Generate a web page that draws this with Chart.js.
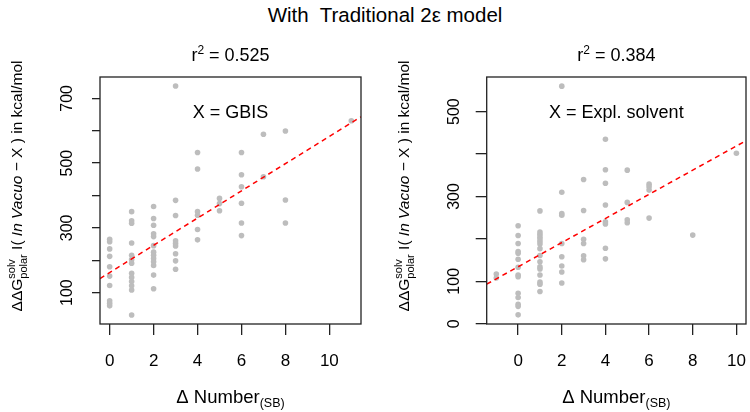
<!DOCTYPE html>
<html>
<head>
<meta charset="utf-8">
<script src="https://cdn.jsdelivr.net/npm/chart.js@4.4.0/dist/chart.umd.min.js"></script>
<style>
  body { margin: 0; background: #fff; }
  #wrap { position: relative; width: 750px; height: 412px; overflow: hidden; }
  #title { position: absolute; left: 0; top: 3px; width: 770px; text-align: center; white-space: pre;
           font: 20.5px "Liberation Sans", Arial, sans-serif; color: #000; }
  canvas { position: absolute; top: 0; }
  #left { left: 0; }
  #right { left: 375px; }
</style>
</head>
<body>
<div id="wrap">
  <div id="title">With  Traditional 2ε model</div>
  <canvas id="left" width="375" height="412"></canvas>
  <canvas id="right" width="375" height="412"></canvas>
</div>
<script>
"use strict";
// left panel: X = GBIS
const leftX = [
  0, 0, 0, 0, 0, 0, 0, 0, 0, 0,
  1, 1, 1, 1, 1, 1, 1, 1, 1, 1, 1, 1, 1,
  2, 2, 2, 2, 2, 2, 2, 2, 2, 2, 2, 2, 2,
  3, 3, 3, 3, 3, 3, 3, 3, 3,
  4, 4, 4, 4, 4, 4,
  5, 5, 5,
  6, 6, 6, 6, 6, 6,
  7, 7,
  8, 8, 8,
  11,
];
const leftY = [
  265, 257, 235, 212, 180, 151, 122, 75, 67, 59,
  350, 322, 314, 253, 215, 202, 191, 160, 147, 134, 121, 108, 31,
  366, 329, 308, 282, 273, 245, 225, 215, 205, 195, 184, 154, 112,
  738, 385, 338, 260, 252, 244, 220, 198, 172,
  533, 482, 350, 339, 295, 263,
  391, 375, 353,
  533, 464, 427, 376, 315, 276,
  589, 458,
  599, 386, 315,
  631,
];
const leftFit = [{ x: -0.44, y: 143.5 }, { x: 11.44, y: 643 }];
const leftXTicks = [0, 2, 4, 6, 8, 10];
const leftYTicks = [100, 200, 300, 400, 500, 600, 700];
const leftYLabels = [100, 300, 500, 700];

// right panel: X = Expl. solvent
const rightX = [
  -1, -1,
  0, 0, 0, 0, 0, 0, 0, 0, 0, 0, 0, 0, 0, 0,
  1, 1, 1, 1, 1, 1, 1, 1, 1, 1, 1, 1, 1, 1, 1, 1,
  2, 2, 2, 2, 2, 2, 2, 2, 2,
  3, 3, 3, 3, 3, 3,
  4, 4, 4, 4, 4, 4, 4, 4,
  5, 5, 5, 5,
  6, 6, 6, 6,
  8,
  10,
];
const rightY = [
  117, 108,
  231, 208, 189, 170, 166, 152, 133, 115, 111, 72, 62, 46, 41, 21,
  266, 216, 211, 205, 200, 194, 188, 177, 161, 146, 134, 129, 115, 98, 93, 76,
  560, 310, 260, 256, 189, 158, 136, 122, 96,
  340, 267, 199, 189, 160, 151,
  435, 363, 331, 280, 240, 235, 178, 153,
  362, 286, 245, 238,
  329, 323, 315, 249,
  209,
  402,
];
const rightFit = [{ x: -1.44, y: 93.3 }, { x: 10.44, y: 431.5 }];
const rightXTicks = [0, 2, 4, 6, 8, 10];
const rightYTicks = [0, 100, 200, 300, 400, 500];
const rightYLabels = [0, 100, 300, 500];

const FAMILY = '"Liberation Sans", Arial, sans-serif';
function font(size, style) {
  return (style || "") + " " + size + "px " + FAMILY;
}

function partWidth(ctx, p) {
  ctx.font = p.font;
  if (p.sup) {
    return Math.max(ctx.measureText(p.sup).width, ctx.measureText(p.sub).width);
  }
  return ctx.measureText(p.text).width;
}

// draws a row of text pieces centred on x, with baseline y
function drawParts(ctx, x, y, parts) {
  let total = 0;
  parts.forEach((p) => (total += partWidth(ctx, p)));
  let px = x - total / 2;
  ctx.textAlign = "left";
  ctx.textBaseline = "alphabetic";
  parts.forEach((p) => {
    const w = partWidth(ctx, p);
    ctx.font = p.font;
    if (p.sup) {
      ctx.fillText(p.sup, px, y - 7);
      ctx.fillText(p.sub, px, y + 5);
    } else {
      ctx.fillText(p.text, px, y + (p.dy || 0));
    }
    px += w;
  });
}

const panelText = {
  id: "panelText",
  afterDraw(chart, args, o) {
    const ctx = chart.ctx;
    const a = chart.chartArea;
    const xs = chart.scales.x;
    const ys = chart.scales.y;
    const cx = (a.left + a.right) / 2;
    ctx.save();

    // box round the plot
    ctx.strokeStyle = "#222";
    ctx.lineWidth = 1.3;
    ctx.strokeRect(a.left, a.top, a.right - a.left, a.bottom - a.top);

    ctx.fillStyle = "#000";
    ctx.font = font(17);
    ctx.textAlign = "center";
    ctx.textBaseline = "middle";
    o.xLabels.forEach((v) => ctx.fillText(String(v), xs.getPixelForValue(v), 361));
    ctx.font = font(16);
    o.yLabels.forEach((v) => {
      ctx.save();
      ctx.translate(a.left - 32, ys.getPixelForValue(v));
      ctx.rotate(-Math.PI / 2);
      ctx.fillText(String(v), 0, 0);
      ctx.restore();
    });

    // r squared above the plot
    drawParts(ctx, cx, 61, [
      { text: "r", font: font(18) },
      { text: "2", font: font(12), dy: -7 },
      { text: " = " + o.r2, font: font(18) },
    ]);

    // which X inside the plot
    ctx.font = font(18);
    ctx.textAlign = "center";
    ctx.textBaseline = "alphabetic";
    ctx.fillText(o.inner, cx, 117.5);

    // x axis title
    drawParts(ctx, cx, 403, [
      { text: "Δ Number", font: font(18.5) },
      { text: "(SB)", font: font(12.5), dy: 4 },
    ]);

    // y axis title, turned
    ctx.save();
    ctx.translate(a.left - 78, 186);
    ctx.rotate(-Math.PI / 2);
    drawParts(ctx, 0, 0, [
      { text: "ΔΔG", font: font(15.5) },
      { sup: "solv", sub: "polar", font: font(11) },
      { text: " I( ", font: font(15.5) },
      { text: "In Vacuo", font: font(15.5, "italic") },
      { text: " − X ) in kcal/mol", font: font(15.5) },
    ]);
    ctx.restore();

    ctx.restore();
  },
};

function makePanel(id, p) {
  const points = p.xs.map((x, i) => ({ x: x, y: p.ys[i] }));
  const axisGrid = {
    drawOnChartArea: false,
    color: "#222",
    lineWidth: 1.3,
  };
  return new Chart(document.getElementById(id), {
    type: "scatter",
    data: {
      datasets: [
        {
          // fitted line, first so it sits on top
          data: p.fit,
          showLine: true,
          borderColor: "#ff0000",
          borderWidth: 1.5,
          borderDash: [5, 4],
          pointRadius: 0,
        },
        {
          data: points,
          pointRadius: 2.8,
          pointBackgroundColor: "#bdbdbd",
          pointBorderWidth: 0,
        },
      ],
    },
    options: {
      responsive: false,
      animation: false,
      layout: { padding: { left: 0, top: 77, right: p.padRight, bottom: 0 } },
      plugins: {
        legend: { display: false },
        tooltip: { enabled: false },
        panelText: {
          xLabels: p.xTicks,
          yLabels: p.yLabels,
          r2: p.r2,
          inner: p.inner,
        },
      },
      scales: {
        x: {
          type: "linear",
          min: p.xMin,
          max: p.xMax,
          afterBuildTicks: (s) => {
            s.ticks = p.xTicks.map((v) => ({ value: v }));
          },
          afterFit: (s) => {
            s.height = 88;
          },
          ticks: { display: false },
          grid: Object.assign({ tickLength: 11 }, axisGrid),
          border: { display: false },
        },
        y: {
          type: "linear",
          min: p.yMin,
          max: p.yMax,
          afterBuildTicks: (s) => {
            s.ticks = p.yTicks.map((v) => ({ value: v }));
          },
          afterFit: (s) => {
            s.width = p.axisWidth;
          },
          ticks: { display: false },
          grid: Object.assign({ tickLength: p.yTickLength }, axisGrid),
          border: { display: false },
        },
      },
    },
    plugins: [panelText],
  });
}

makePanel("left", {
  xs: leftX,
  ys: leftY,
  fit: leftFit,
  xTicks: leftXTicks,
  yTicks: leftYTicks,
  yLabels: leftYLabels,
  xMin: -0.44,
  xMax: 11.44,
  yMin: 3,
  yMax: 766,
  axisWidth: 100,
  padRight: 14,
  yTickLength: 8,
  r2: "0.525",
  inner: "X = GBIS",
});

makePanel("right", {
  xs: rightX,
  ys: rightY,
  fit: rightFit,
  xTicks: rightXTicks,
  yTicks: rightYTicks,
  yLabels: rightYLabels,
  xMin: -1.44,
  xMax: 10.44,
  yMin: -0.6,
  yMax: 581.6,
  axisWidth: 111.7,
  padRight: 2,
  yTickLength: 11,
  r2: "0.384",
  inner: "X = Expl. solvent",
});
</script>
</body>
</html>
